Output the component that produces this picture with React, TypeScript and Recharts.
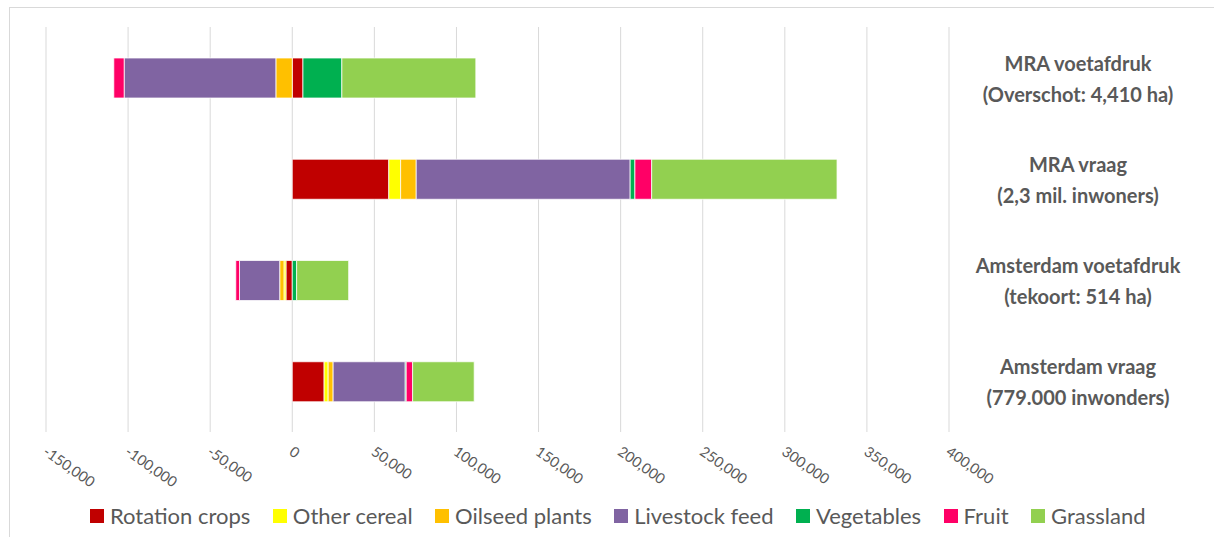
import { BarChart, Bar, XAxis, YAxis, CartesianGrid, Legend } from 'recharts';

// Categories, top to bottom (two lines each, split on \n)
const categories = [
    'MRA voetafdruk\n(Overschot: 4,410 ha)',
    'MRA vraag\n(2,3 mil. inwoners)',
    'Amsterdam voetafdruk\n(tekoort: 514 ha)',
    'Amsterdam vraag\n(779.000 inwonders)',
];

// Hectares per land-use type
const rotationCrops = [6500, 58800, -3850, 19400];
const otherCereal = [0, 7200, -1200, 2450];
const oilseedPlants = [-10000, 9500, -2600, 3050];
const livestockFeed = [-92400, 130300, -24500, 43900];
const vegetables = [23700, 2900, 2650, 600];
const fruit = [-6300, 10200, -2250, 3900];
const grassland = [81600, 112900, 31700, 37500];

const xTicks = [-150000, -100000, -50000, 0, 50000, 100000, 150000, 200000, 250000, 300000, 350000, 400000];

const series = [
    { key: 'rotation', name: 'Rotation crops', color: '#C00000', values: rotationCrops },
    { key: 'cereal', name: 'Other cereal', color: '#FFFF00', values: otherCereal },
    { key: 'oilseed', name: 'Oilseed plants', color: '#FFC000', values: oilseedPlants },
    { key: 'livestock', name: 'Livestock feed', color: '#8064A2', values: livestockFeed },
    { key: 'vegetables', name: 'Vegetables', color: '#00B050', values: vegetables },
    { key: 'fruit', name: 'Fruit', color: '#FF0066', values: fruit },
    { key: 'grassland', name: 'Grassland', color: '#92D050', values: grassland },
];

const chartData = categories.map((name, i) => {
    const row: Record<string, string | number> = { name };
    series.forEach((s) => { row[s.key] = s.values[i]; });
    return row;
});

const FONT = 'Lato, "Open Sans", sans-serif';
const GREY = '#595959';

// Rotated value labels under the gridlines
function XTick({ x, payload }: any) {
    const tx = x - 4;
    const ty = 454;
    return (
        <text x={tx} y={ty} transform={`rotate(35, ${tx}, ${ty})`} textAnchor="start"
            fontFamily={FONT} fontSize={14.5} fill={GREY}>
            {Number(payload.value).toLocaleString('en-US')}
        </text>
    );
}

// Two-line bold category label on the right
function YTick({ y, payload }: any) {
    const [l1, l2] = String(payload.value).split('\n');
    const cx = 1078;
    return (
        <text textAnchor="middle" fontFamily={FONT} fontSize={20} fontWeight={700} fill={GREY}>
            <tspan x={cx} y={y - 15} dominantBaseline="central">{l1}</tspan>
            <tspan x={cx} y={y + 16} dominantBaseline="central">{l2}</tspan>
        </text>
    );
}

function LegendContent() {
    return (
        <div style={{ display: 'flex', alignItems: 'center', fontFamily: FONT, fontSize: 22, color: GREY, whiteSpace: 'nowrap' }}>
            {series.map((s) => (
                <div key={s.key} style={{ display: 'flex', alignItems: 'center', marginRight: 22.5 }}>
                    <span style={{ display: 'inline-block', width: 14, height: 14, background: s.color, marginRight: 6 }} />
                    <span>{s.name}</span>
                </div>
            ))}
        </div>
    );
}

export default function App() {
    return (
        <div style={{ position: 'absolute', left: 0, top: 0, width: 1214, height: 537, overflow: 'hidden', background: '#fff' }}>
            <div style={{ position: 'absolute', left: 9, top: 7, width: 1230, height: 560, border: '1px solid #d9d9d9' }} />
            <div style={{ position: 'absolute', left: 0, top: 0 }}>
                <BarChart
                    width={1214}
                    height={537}
                    data={chartData}
                    layout="vertical"
                    stackOffset="sign"
                    margin={{ top: 27, right: 0, bottom: 45, left: 46 }}
                >
                    <CartesianGrid horizontal={false} stroke="#d9d9d9" />
                    <XAxis
                        type="number"
                        domain={[-150000, 400000]}
                        ticks={xTicks}
                        interval={0}
                        height={60}
                        axisLine={false}
                        tickLine={false}
                        tick={<XTick />}
                    />
                    <YAxis
                        type="category"
                        dataKey="name"
                        orientation="right"
                        width={265}
                        axisLine={false}
                        tickLine={false}
                        tick={<YTick />}
                    />
                    <Legend
                        verticalAlign="middle"
                        align="center"
                        layout="horizontal"
                        content={<LegendContent />}
                        wrapperStyle={{ top: 502, left: 90, width: 1100 }}
                    />
                    {series.map((s) => (
                        <Bar
                            key={s.key}
                            dataKey={s.key}
                            name={s.name}
                            stackId="a"
                            fill={s.color}
                            stroke="#ffffff"
                            strokeWidth={0.75}
                            barSize={40}
                            isAnimationActive={false}
                        />
                    ))}
                </BarChart>
            </div>
        </div>
    );
}
